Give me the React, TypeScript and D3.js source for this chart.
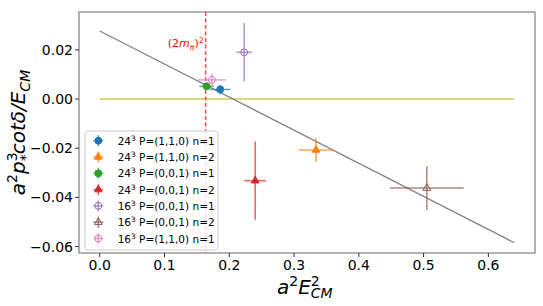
import React from 'react';
import * as d3 from 'd3';

const lattice = ['24', '24', '24', '24', '16', '16', '16'];
const frames = ['P=(1,1,0) n=1', 'P=(1,1,0) n=2', 'P=(0,0,1) n=1', 'P=(0,0,1) n=2', 'P=(0,0,1) n=1', 'P=(0,0,1) n=2', 'P=(1,1,0) n=1'];
const colors = ['#1f77b4', '#ff7f0e', '#2ca02c', '#d62728', '#9467bd', '#8c564b', '#e377c2'];
const shapes = ['circle', 'triangle', 'circle', 'triangle', 'circle', 'triangle', 'circle'];
const filled = [true, true, true, true, false, false, false];

const xVals = [0.186, 0.334, 0.165, 0.24, 0.223, 0.505, 0.173];
const yVals = [0.0039, -0.0207, 0.0052, -0.0332, 0.019, -0.0362, 0.0078];
const xErr = [0.016, 0.026, 0.011, 0.017, 0.012, 0.057, 0.022];
const yErr = [0.0019, 0.0049, 0.0013, 0.0159, 0.0119, 0.0089, 0.0025];

const fitX = [0, 0.64];
const fitY = [0.0277, -0.0584];
const zeroX = [0, 0.64];
const threshold = 0.1635;

const xTicks = [0, 0.1, 0.2, 0.3, 0.4, 0.5, 0.6];
const yTicks = [0.02, 0, -0.02, -0.04, -0.06];

const W = 543;
const H = 306;
const left = 79, right = 535, top = 12, bottom = 253;

const x = d3.scaleLinear().domain([-0.032, 0.672]).range([left, right]);
const y = d3.scaleLinear().domain([-0.0626, 0.0354]).range([bottom, top]);

const font = 'DejaVu Sans, sans-serif';

const marker = (i: number, cx: number, cy: number) => {
  const type = shapes[i] === 'circle' ? d3.symbolCircle : d3.symbolTriangle;
  const size = shapes[i] === 'circle' ? 38 : 26;
  const path = d3.symbol().type(type).size(size)();
  return (
    <path
      d={path || ''}
      transform={`translate(${cx},${cy})`}
      fill={filled[i] ? colors[i] : 'none'}
      stroke={colors[i]}
      strokeWidth={1}
    />
  );
};

const fmt = (v: number) => (v < 0 ? '\u2212' : '') + Math.abs(v).toFixed(2);
const fmtX = (v: number) => v.toFixed(1);

const App = () => {
  const fitLine = d3.line<number>().x((d) => x(d)).y((_, i) => y(fitY[i]));
  const legendX = 85, legendY = 131, rowH = 16.3;

  return (
    <svg width={W} height={H} style={{ position: 'absolute', left: 0, top: 0 }} fontFamily={font}>
      <rect width={W} height={H} fill="white" />

      {/* reference lines */}
      <line x1={x(zeroX[0])} x2={x(zeroX[1])} y1={y(0)} y2={y(0)} stroke="#bcbd22" strokeOpacity={0.75} strokeWidth={1.5} />
      <path d={fitLine(fitX) || ''} fill="none" stroke="#808080" strokeWidth={1.2} />
      <line x1={x(threshold)} x2={x(threshold)} y1={top} y2={bottom} stroke="red" strokeOpacity={0.7} strokeWidth={1.5} strokeDasharray="4 2.5" />
      <text x={x(threshold) - 2} y={47} textAnchor="end" fill="red" fontSize={11}>
        (2<tspan fontStyle="italic">m</tspan><tspan fontSize={7.7} dy={2.5} fontStyle="italic">π</tspan><tspan dy={-2.5}>)</tspan><tspan fontSize={7.7} dy={-4.5}>2</tspan>
      </text>

      {/* data with error bars */}
      {xVals.map((xv, i) => (
        <g key={i}>
          <line x1={x(xv - xErr[i])} x2={x(xv + xErr[i])} y1={y(yVals[i])} y2={y(yVals[i])} stroke={colors[i]} strokeOpacity={0.7} strokeWidth={1.5} />
          <line x1={x(xv)} x2={x(xv)} y1={y(yVals[i] - yErr[i])} y2={y(yVals[i] + yErr[i])} stroke={colors[i]} strokeOpacity={0.7} strokeWidth={1.5} />
          {marker(i, x(xv), y(yVals[i]))}
        </g>
      ))}

      {/* spines */}
      <rect x={left} y={top} width={right - left} height={bottom - top} fill="none" stroke="#666" strokeWidth={1} />

      {/* x axis */}
      {xTicks.map((t) => (
        <g key={t}>
          <line x1={x(t)} x2={x(t)} y1={bottom} y2={bottom + 4} stroke="#333" />
          <text x={x(t)} y={bottom + 16.5} textAnchor="middle" fontSize={14}>{fmtX(t)}</text>
        </g>
      ))}
      {/* y axis */}
      {yTicks.map((t) => (
        <g key={t}>
          <line x1={left - 4} x2={left} y1={y(t)} y2={y(t)} stroke="#333" />
          <text x={left - 6} y={y(t) + 5} textAnchor="end" fontSize={14}>{fmt(t)}</text>
        </g>
      ))}

      {/* axis labels */}
      <text x={(left + right) / 2 - 30} y={294} fontSize={20}>
        <tspan fontStyle="italic">a</tspan><tspan fontSize={14} dy={-8}>2</tspan><tspan fontStyle="italic" dy={8}>E</tspan><tspan fontSize={14} dy={-8}>2</tspan><tspan fontSize={14} fontStyle="italic" dx={-8.9} dy={12}>CM</tspan>
      </text>
      <text transform={`translate(25,${(top + bottom) / 2}) rotate(-90)`} textAnchor="middle" fontSize={20}>
        <tspan fontStyle="italic">a</tspan><tspan fontSize={14} dy={-8}>2</tspan><tspan fontStyle="italic" dy={8}>p</tspan><tspan fontSize={14} dy={-8}>3</tspan><tspan fontSize={14} dx={-8.9} dy={13}>*</tspan><tspan fontStyle="italic" dy={-5}>cotδ/E</tspan><tspan fontSize={14} fontStyle="italic" dy={5}>CM</tspan>
      </text>

      {/* legend */}
      <rect x={legendX} y={legendY} width={133} height={119} rx={3} fill="white" fillOpacity={0.8} stroke="#ccc" />
      {lattice.map((l, i) => {
        const cy = legendY + 9.7 + i * rowH;
        const cx = 98.3;
        return (
          <g key={i}>
            <line x1={cx - 5} x2={cx + 5} y1={cy} y2={cy} stroke={colors[i]} strokeOpacity={0.7} strokeWidth={1.5} />
            <line x1={cx} x2={cx} y1={cy - 5.5} y2={cy + 5.5} stroke={colors[i]} strokeOpacity={0.7} strokeWidth={1.5} />
            {marker(i, cx, cy)}
            <text x={117.7} y={cy + 4} fontSize={10.5}>
              {l}<tspan fontSize={7.4} dy={-4}>3</tspan><tspan dy={4}> {frames[i]}</tspan>
            </text>
          </g>
        );
      })}
    </svg>
  );
};

export default App;
